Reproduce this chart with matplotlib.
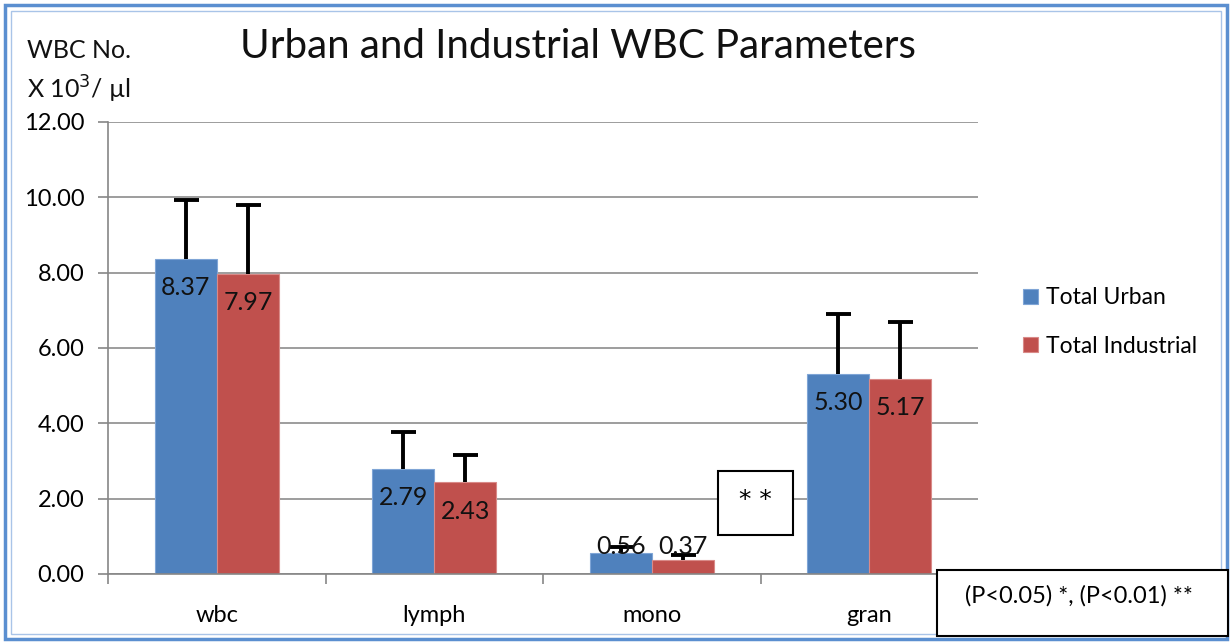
import matplotlib.pyplot as plt
import numpy as np
from matplotlib.patches import Rectangle

# data
categorias = ['wbc', 'lymph', 'mono', 'gran']
urban = [8.37, 2.79, 0.56, 5.30]
industrial = [7.97, 2.43, 0.37, 5.17]
err_urban = [1.55, 0.97, 0.16, 1.60]
err_industrial = [1.82, 0.72, 0.13, 1.52]
series = ['Total Urban', 'Total Industrial']

plt.rcParams['font.family'] = ['Lato', 'DejaVu Sans']

fig = plt.figure(figsize=(12.31, 6.43), dpi=100)
ax = fig.add_axes([108 / 1231, 1 - 574 / 643, 870 / 1231, 452 / 643])

x = np.arange(len(categorias))
w = 0.286
azul = '#4F81BD'
rojo = '#C0504D'

b1 = ax.bar(x - w / 2, urban, w, color=azul, edgecolor='#7FA5D6', linewidth=0.8, label=series[0], zorder=2)
b2 = ax.bar(x + w / 2, industrial, w, color=rojo, edgecolor='#D98A88', linewidth=0.8, label=series[1], zorder=2)

for xs, vals, errs in ((x - w / 2, urban, err_urban), (x + w / 2, industrial, err_industrial)):
    eb = ax.errorbar(xs, vals, yerr=[np.zeros(4), errs], fmt='none', ecolor='black',
                     elinewidth=2.8, capsize=9, capthick=2.8, zorder=3)
    # solo la tapa superior
    eb[1][0].set_visible(False)

# etiquetas de valores
for barras in (b1, b2):
    for b in barras:
        v = b.get_height()
        ax.text(b.get_x() + b.get_width() / 2, max(v - 0.76, 0.72), f"{v:.2f}",
                ha='center', va='center', fontsize=18, color='#111111', zorder=4)

ax.set_xlim(-0.5, 3.5)
ax.set_ylim(0, 12)
ax.set_yticks(np.arange(0, 12.01, 2))
ax.set_yticklabels([f"{v:.2f}" for v in np.arange(0, 12.01, 2)], fontsize=17)
ax.set_xticks(x)
ax.set_xticklabels(categorias, fontsize=17)
ax.set_xticks(np.arange(-0.5, 3.6, 1), minor=True)
ax.tick_params(axis='x', which='major', length=0, pad=22)
ax.tick_params(axis='x', which='minor', length=7, color='#868686', width=1.2)
ax.tick_params(axis='y', length=7, color='#868686', width=1.2, pad=10)

ax.grid(axis='y', color='#8C8C8C', linewidth=1.2, zorder=0)
ax.set_axisbelow(True)
for s in ['top', 'right']:
    ax.spines[s].set_visible(False)
for s in ['left', 'bottom']:
    ax.spines[s].set_color('#868686')
    ax.spines[s].set_linewidth(1.2)

ax.legend(loc='center left', bbox_to_anchor=(1002 / 1231, 1 - 322 / 643), bbox_transform=fig.transFigure,
          frameon=False, fontsize=16.5, handlelength=0.65, handleheight=0.65, handletextpad=0.35,
          labelspacing=1.2)

fig.text(578 / 1231, 1 - 47 / 643, 'Urban and Industrial WBC Parameters', ha='center', va='center',
         fontsize=29, color='#111111')
fig.text(27 / 1231, 1 - 50 / 643, 'WBC No.', ha='left', va='center', fontsize=18, color='#111111')
fig.text(27 / 1231, 1 - 89 / 643, 'X 10$^{3}$/ µl', ha='left', va='center', fontsize=18, color='#111111')

# cajas de significancia
fig.patches.append(Rectangle((718 / 1231, 1 - 535 / 643), 75 / 1231, 64 / 643, transform=fig.transFigure,
                             facecolor='white', edgecolor='black', linewidth=1.5, zorder=5))
fig.text(755 / 1231, 1 - 500 / 643, '* *', ha='center', va='center', fontsize=18,
         family=['DejaVu Sans'], zorder=6)
fig.patches.append(Rectangle((937 / 1231, 1 - 636 / 643), 291 / 1231, 66 / 643, transform=fig.transFigure,
                             facecolor='white', edgecolor='black', linewidth=1.5, zorder=5))
fig.text(1079 / 1231, 1 - 596 / 643, '(P<0.05) *, (P<0.01) **', ha='center', va='center', fontsize=17, zorder=6)

# marco azul
fig.patches.append(Rectangle((5 / 1231, 4 / 643), 1222 / 1231, 634 / 643, transform=fig.transFigure,
                             facecolor='none', edgecolor='#5B8FD0', linewidth=2.5, zorder=1))
fig.patches.append(Rectangle((11 / 1231, 9 / 643), 1210 / 1231, 623 / 643, transform=fig.transFigure,
                             facecolor='none', edgecolor='#A9C4E8', linewidth=1, zorder=1))

fig.savefig('out.png', dpi=100)
